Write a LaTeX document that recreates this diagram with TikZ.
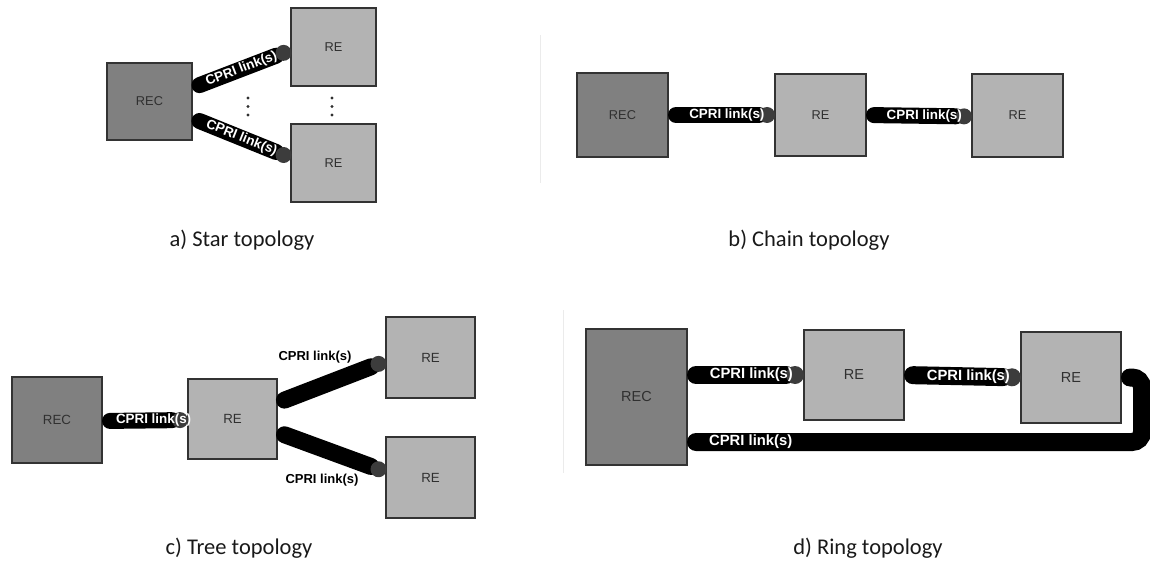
\documentclass[tikz,border=0pt]{standalone}
\usepackage{fontspec}
\setmainfont{Carlito}
\newfontfamily\arial{Liberation Sans}
\usetikzlibrary{arrows.meta}

\definecolor{recgray}{HTML}{808080}
\definecolor{regray}{HTML}{B3B3B3}
\definecolor{boxline}{HTML}{333333}
\definecolor{capgray}{HTML}{3C3C3C}
\definecolor{txtgray}{HTML}{303030}

\begin{document}
\begin{tikzpicture}[x=1pt,y=-1pt,
unit/.style={%
draw=boxline,
line width=1.1pt,
inner sep=0pt,
outer sep=0pt,
text=txtgray,
font=\arial\fontsize{12.8}{14}\selectfont,
},
rec/.style={%
unit,
fill=recgray,
},
re/.style={%
unit,
fill=regray,
},
cable/.style={%
draw=black,
line width=16pt,
line cap=round,
shorten <=8pt,
-{Circle[length=16pt,line width=0pt,color=capgray]},
},
bigcable/.style={%
line width=18pt,
shorten <=9pt,
-{Circle[length=18pt,line width=0pt,color=capgray]},
},
ringcable/.style={%
draw=black,
line width=18pt,
line cap=round,
rounded corners=10pt,
shorten <=9pt,
shorten >=9pt,
},
linktext/.style={%
text=white,
inner sep=0pt,
font=\arial\bfseries\fontsize{13.4}{15}\selectfont,
},
linklabel/.style={%
text=black,
inner sep=0pt,
font=\arial\bfseries\fontsize{13}{15}\selectfont,
},
caption/.style={%
font=\fontsize{22.5}{26}\selectfont,
text=black!90,
},
]
\useasboundingbox (0,0) rectangle (1150,567);
%% thin frame edges
\draw[black!8] (540,35)--(540,183);
\draw[black!8] (563,310)--(563,473);
%% a) Star
\node[rec,minimum width=85pt,minimum height=77pt] (recA) at (149.5,101.5) {REC};
\node[re,minimum width=85pt,minimum height=78pt] (reA1) at (333.5,47) {RE};
\node[re,minimum width=85pt,minimum height=78pt] (reA2) at (333.5,163) {RE};
\draw[cable] ([yshift=13.5pt]recA.east)--([yshift=-3pt]reA1.west)
node[midway,sloped,linktext]{CPRI link(s)};
\draw[cable] ([yshift=-16.5pt]recA.east)--([yshift=5pt]reA2.west)
node[midway,sloped,linktext]{CPRI link(s)};
\foreach \x in {248,332}{%
\foreach \y in {98,106.5,115}{%
\fill[txtgray] (\x,\y) circle (1.6);
}
}
\node[caption] (capA) at (242,240) {a) Star topology};
%% b) Chain
\node[rec,minimum width=91pt,minimum height=84pt] (recB) at (622.5,115) {REC};
\node[re,minimum width=91pt,minimum height=82pt] (reB1) at (820.5,115) {RE};
\node[re,minimum width=91pt,minimum height=83pt] (reB2) at (1017.5,115.5) {RE};
\draw[cable] (recB.east)--(reB1.west) node[pos=0.55,linktext]{CPRI link(s)};
\draw[cable] (reB1.east)--([yshift=-1pt]reB2.west) node[pos=0.55,linktext]{CPRI link(s)};
\node[caption] (capB) at (809,240) {b) Chain topology};
%% c) Tree
\node[rec,minimum width=90pt,minimum height=86pt,font=\arial\fontsize{13.3}{15}\selectfont] (recC) at (57,420) {REC};
\node[re,minimum width=89pt,minimum height=80pt,font=\arial\fontsize{13.3}{15}\selectfont] (reC) at (232.5,419) {RE};
\node[re,minimum width=89pt,minimum height=81pt,font=\arial\fontsize{13.3}{15}\selectfont] (reC1) at (430.5,357.5) {RE};
\node[re,minimum width=89pt,minimum height=81pt,font=\arial\fontsize{13.3}{15}\selectfont] (reC2) at (430.5,477.5) {RE};
\draw[cable] ([yshift=-1pt]recC.east)--([yshift=-1pt]reC.west) node[pos=0.6,linktext]{CPRI link(s)};
\draw[cable,line width=17pt] ([yshift=16pt]reC.east)--([yshift=-3.5pt]reC1.west);
\draw[cable,line width=17pt] ([yshift=-13pt]reC.east)--([yshift=5.5pt]reC2.west);
\node[linklabel] (lblC1) at (315,357) {CPRI link(s)};
\node[linklabel] (lblC2) at (322,480) {CPRI link(s)};
\node[caption] (capC) at (239,548) {c) Tree topology};
%% d) Ring
\node[rec,minimum width=101pt,minimum height=136pt,font=\arial\fontsize{14.5}{16}\selectfont] (recD) at (636.5,397) {REC};
\node[re,minimum width=100pt,minimum height=90pt,font=\arial\fontsize{14.5}{16}\selectfont] (reD1) at (854,375) {RE};
\node[re,minimum width=100pt,minimum height=91pt,font=\arial\fontsize{14.5}{16}\selectfont] (reD2) at (1071,377.5) {RE};
\draw[cable,bigcable] ([yshift=22pt]recD.east)--(reD1.west)
node[pos=0.55,linktext,font=\arial\bfseries\fontsize{14.8}{16}\selectfont]{CPRI link(s)};
\draw[cable,bigcable] (reD1.east)--(reD2.west)
node[pos=0.55,linktext,font=\arial\bfseries\fontsize{14.8}{16}\selectfont]{CPRI link(s)};
\draw[ringcable] (reD2.east)--++(21,0) |- ([yshift=-45pt]recD.east)
node[pos=0.93,linktext,font=\arial\bfseries\fontsize{14.8}{16}\selectfont]{CPRI link(s)};
\node[caption] (capD) at (868,548) {d) Ring topology};
\end{tikzpicture}
\end{document}
